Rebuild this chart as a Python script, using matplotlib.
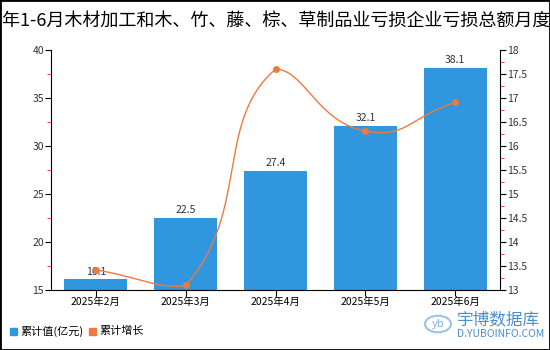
import numpy as np
import matplotlib.pyplot as plt
from matplotlib.ticker import MultipleLocator
from matplotlib.patches import Rectangle

plt.rcParams['font.family'] = ['Noto Sans CJK SC', 'DejaVu Sans']

months = ['2025年2月', '2025年3月', '2025年4月', '2025年5月', '2025年6月']
total = [16.1, 22.5, 27.4, 32.1, 38.1]
growth = [13.42, 13.1, 17.6, 16.31, 16.91]

title = '2025年1-6月木材加工和木、竹、藤、棕、草制品业亏损企业亏损总额月度统计'
bar_color = '#3096DE'
line_color = '#EE7A3D'

# px per data unit, so smoothing behaves like it does on screen
SX, SY = 89.8, 48.0


def smooth_curve(xs, ys, ymin, smooth=0.5, n=60):
    pts = np.column_stack([np.asarray(xs, float) * SX, np.asarray(ys, float) * SY])
    lo = np.array([pts[:, 0].min(), ymin * SY])
    hi = pts.max(axis=0)
    out = [pts[:1]]
    cp0 = pts[0] + (pts[1] - pts[0]) * smooth
    for i in range(1, len(pts)):
        p = pts[i]
        prev_p = pts[i - 1]
        next_p = pts[i + 1] if i + 1 < len(pts) else p
        v = next_p - prev_p
        d0 = np.hypot(*(p - prev_p))
        d1 = np.hypot(*(p - next_p))
        r = d1 / (d1 + d0)
        cp1 = np.clip(p - v * smooth * (1 - r), lo, hi)
        nxt = np.clip(p + v * smooth * r, lo, hi)
        t = np.linspace(0, 1, n)[1:, None]
        seg = (1 - t) ** 3 * prev_p + 3 * (1 - t) ** 2 * t * cp0 + 3 * (1 - t) * t ** 2 * cp1 + t ** 3 * p
        out.append(seg)
        cp0 = nxt
    c = np.vstack(out)
    return c[:, 0] / SX, c[:, 1] / SY


fig = plt.figure(figsize=(5.5, 3.5), dpi=100)
ax = fig.add_axes([51 / 550, 1 - 290 / 350, 449 / 550, 240 / 350])
x = np.arange(len(months))

ax.bar(x, total, width=0.7, color=bar_color, zorder=2)
for xi, v in zip(x, total):
    ax.text(xi, v + 0.3, f'{v}', ha='center', va='bottom', fontsize=7.5, color='#333333', zorder=5)

ax.set_ylim(15, 40)
ax.set_xlim(-0.5, len(months) - 0.5)
ax.yaxis.set_major_locator(MultipleLocator(5))
ax.yaxis.set_minor_locator(MultipleLocator(2.5))
ax.set_xticks(x)
ax.set_xticklabels(months, fontsize=7.5)
ax.tick_params(axis='y', which='major', labelsize=7.5, length=4, color='black', labelcolor='#333333', pad=1)
ax.tick_params(axis='y', which='minor', length=3, color='#E03030')
ax.tick_params(axis='x', length=4, labelsize=7.5, pad=1)
ax.spines['top'].set_visible(False)
ax.spines['right'].set_visible(False)

ax2 = ax.twinx()
ax2.set_ylim(13, 18)
ax2.yaxis.set_major_locator(MultipleLocator(0.5))
ax2.yaxis.set_minor_locator(MultipleLocator(0.25))
ax2.tick_params(axis='y', which='major', labelsize=7.5, length=4, color='black', labelcolor='#333333', pad=1)
ax2.tick_params(axis='y', which='minor', length=3, color='#E03030')
ax2.yaxis.set_major_formatter(plt.FuncFormatter(lambda v, p: f'{v:g}'))
for s in ['top', 'left', 'bottom']:
    ax2.spines[s].set_visible(False)

cx, cy = smooth_curve(x, growth, ymin=13.0)
ax2.plot(cx, cy, color=line_color, lw=1, clip_on=False, zorder=3)
ax2.plot(x, growth, 'o', color=line_color, ms=4, zorder=4, clip_on=False)

# title is wider than the canvas, cut at both edges like the original
fig.text(0.5, 1 - 21 / 350, title, ha='center', va='center', fontsize=13)

# legend
fig.patches.append(Rectangle((10 / 550, 1 - 335 / 350), 7 / 550, 7 / 350, color=bar_color, transform=fig.transFigure))
fig.text(20 / 550, 1 - 331 / 350, '累计值(亿元)', fontsize=8, va='center')
fig.patches.append(Rectangle((89 / 550, 1 - 335 / 350), 7 / 550, 7 / 350, color=line_color, transform=fig.transFigure))
fig.text(99 / 550, 1 - 331 / 350, '累计增长', fontsize=8, va='center')

# watermark
wm = '#4C8FD0'
fig.patches.append(plt.Circle((438 / 550, 1 - 324 / 350), 13 / 550, transform=fig.transFigure,
                              fill=False, ec='#9CC3E6', lw=1.5))
fig.text(438 / 550, 1 - 324 / 350, 'yb', fontsize=8, color='#7FB0DE', ha='center', va='center', style='italic')
fig.text(457 / 550, 1 - 320 / 350, '宇博数据库', fontsize=12, color=wm, va='center', ha='left')
fig.text(457 / 550, 1 - 334 / 350, 'D.YUBOINFO.COM', fontsize=7.5, color=wm, va='center', ha='left')

# outer border
fig.patches.append(Rectangle((0, 0), 1, 1, fill=False, ec='black', lw=2, transform=fig.transFigure))

fig.savefig('out.png', dpi=100)
